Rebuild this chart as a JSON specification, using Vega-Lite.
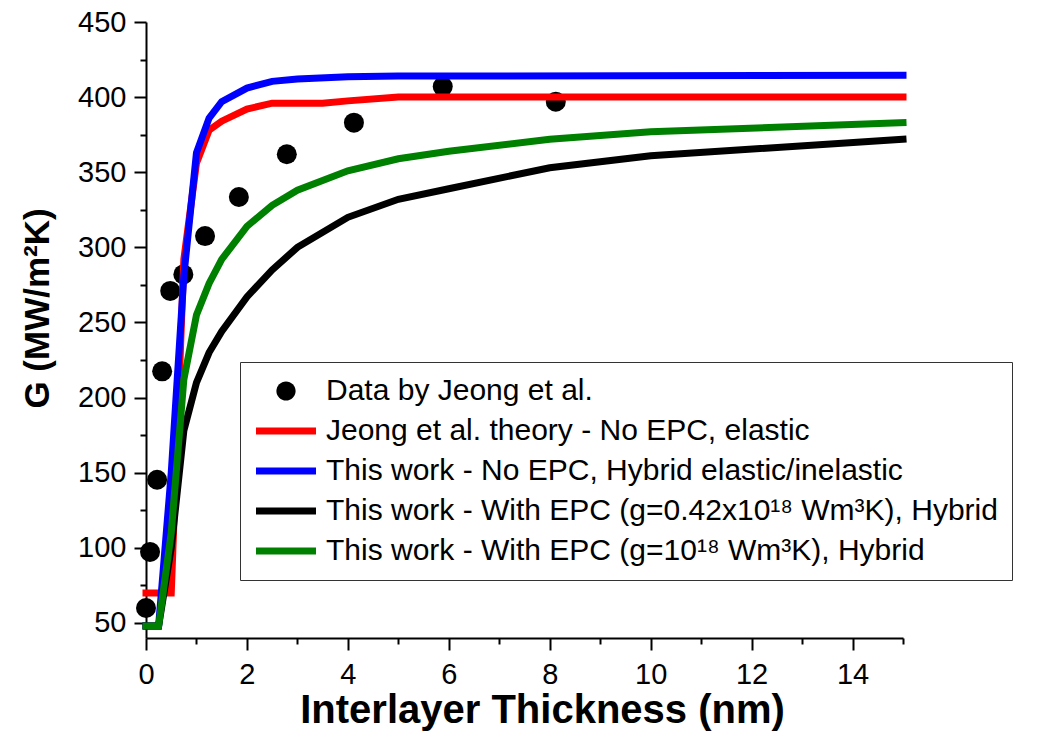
{
  "$schema": "https://vega.github.io/schema/vega-lite/v6.json",
  "width": 757,
  "height": 616,
  "autosize": {"type": "none"},
  "padding": {"left": 146, "top": 22, "right": 138, "bottom": 102},
  "background": "white",
  "config": {"view": {"stroke": null}, "font": "Liberation Sans"},
  "data": {
    "values": [
      {"series": "Data by Jeong et al.", "x": 0, "y": 60},
      {"series": "Data by Jeong et al.", "x": 0.08, "y": 97.3},
      {"series": "Data by Jeong et al.", "x": 0.22, "y": 145.3},
      {"series": "Data by Jeong et al.", "x": 0.32, "y": 217.5},
      {"series": "Data by Jeong et al.", "x": 0.48, "y": 271},
      {"series": "Data by Jeong et al.", "x": 0.74, "y": 282},
      {"series": "Data by Jeong et al.", "x": 1.17, "y": 307.5},
      {"series": "Data by Jeong et al.", "x": 1.84, "y": 333.5},
      {"series": "Data by Jeong et al.", "x": 2.79, "y": 362},
      {"series": "Data by Jeong et al.", "x": 4.12, "y": 383},
      {"series": "Data by Jeong et al.", "x": 5.88, "y": 407},
      {"series": "Data by Jeong et al.", "x": 8.12, "y": 397},

      {"series": "Jeong et al. theory - No EPC, elastic", "x": 0, "y": 70},
      {"series": "Jeong et al. theory - No EPC, elastic", "x": 0.5, "y": 70},
      {"series": "Jeong et al. theory - No EPC, elastic", "x": 0.75, "y": 292},
      {"series": "Jeong et al. theory - No EPC, elastic", "x": 1, "y": 356},
      {"series": "Jeong et al. theory - No EPC, elastic", "x": 1.25, "y": 378},
      {"series": "Jeong et al. theory - No EPC, elastic", "x": 1.5, "y": 384},
      {"series": "Jeong et al. theory - No EPC, elastic", "x": 2, "y": 392},
      {"series": "Jeong et al. theory - No EPC, elastic", "x": 2.5, "y": 396},
      {"series": "Jeong et al. theory - No EPC, elastic", "x": 3, "y": 396},
      {"series": "Jeong et al. theory - No EPC, elastic", "x": 3.5, "y": 396},
      {"series": "Jeong et al. theory - No EPC, elastic", "x": 4, "y": 397.5},
      {"series": "Jeong et al. theory - No EPC, elastic", "x": 5, "y": 400},
      {"series": "Jeong et al. theory - No EPC, elastic", "x": 6, "y": 400},
      {"series": "Jeong et al. theory - No EPC, elastic", "x": 8, "y": 400},
      {"series": "Jeong et al. theory - No EPC, elastic", "x": 10, "y": 400},
      {"series": "Jeong et al. theory - No EPC, elastic", "x": 15, "y": 400},

      {"series": "This work - No EPC, Hybrid elastic/inelastic", "x": 0, "y": 48},
      {"series": "This work - No EPC, Hybrid elastic/inelastic", "x": 0.25, "y": 48},
      {"series": "This work - No EPC, Hybrid elastic/inelastic", "x": 0.5, "y": 150},
      {"series": "This work - No EPC, Hybrid elastic/inelastic", "x": 0.75, "y": 281},
      {"series": "This work - No EPC, Hybrid elastic/inelastic", "x": 1, "y": 363},
      {"series": "This work - No EPC, Hybrid elastic/inelastic", "x": 1.25, "y": 386},
      {"series": "This work - No EPC, Hybrid elastic/inelastic", "x": 1.5, "y": 397},
      {"series": "This work - No EPC, Hybrid elastic/inelastic", "x": 2, "y": 406},
      {"series": "This work - No EPC, Hybrid elastic/inelastic", "x": 2.5, "y": 410.5},
      {"series": "This work - No EPC, Hybrid elastic/inelastic", "x": 3, "y": 412},
      {"series": "This work - No EPC, Hybrid elastic/inelastic", "x": 4, "y": 413.5},
      {"series": "This work - No EPC, Hybrid elastic/inelastic", "x": 5, "y": 414},
      {"series": "This work - No EPC, Hybrid elastic/inelastic", "x": 15, "y": 414.5},

      {"series": "This work - With EPC (g=0.42x10¹⁸ Wm³K), Hybrid", "x": 0, "y": 48},
      {"series": "This work - With EPC (g=0.42x10¹⁸ Wm³K), Hybrid", "x": 0.25, "y": 48},
      {"series": "This work - With EPC (g=0.42x10¹⁸ Wm³K), Hybrid", "x": 0.5, "y": 100},
      {"series": "This work - With EPC (g=0.42x10¹⁸ Wm³K), Hybrid", "x": 0.75, "y": 178},
      {"series": "This work - With EPC (g=0.42x10¹⁸ Wm³K), Hybrid", "x": 1, "y": 210},
      {"series": "This work - With EPC (g=0.42x10¹⁸ Wm³K), Hybrid", "x": 1.25, "y": 230},
      {"series": "This work - With EPC (g=0.42x10¹⁸ Wm³K), Hybrid", "x": 1.5, "y": 244},
      {"series": "This work - With EPC (g=0.42x10¹⁸ Wm³K), Hybrid", "x": 2, "y": 267},
      {"series": "This work - With EPC (g=0.42x10¹⁸ Wm³K), Hybrid", "x": 2.5, "y": 285},
      {"series": "This work - With EPC (g=0.42x10¹⁸ Wm³K), Hybrid", "x": 3, "y": 300},
      {"series": "This work - With EPC (g=0.42x10¹⁸ Wm³K), Hybrid", "x": 4, "y": 320},
      {"series": "This work - With EPC (g=0.42x10¹⁸ Wm³K), Hybrid", "x": 5, "y": 332},
      {"series": "This work - With EPC (g=0.42x10¹⁸ Wm³K), Hybrid", "x": 6, "y": 339},
      {"series": "This work - With EPC (g=0.42x10¹⁸ Wm³K), Hybrid", "x": 8, "y": 353},
      {"series": "This work - With EPC (g=0.42x10¹⁸ Wm³K), Hybrid", "x": 10, "y": 361},
      {"series": "This work - With EPC (g=0.42x10¹⁸ Wm³K), Hybrid", "x": 15, "y": 372},

      {"series": "This work - With EPC (g=10¹⁸ Wm³K), Hybrid", "x": 0, "y": 48},
      {"series": "This work - With EPC (g=10¹⁸ Wm³K), Hybrid", "x": 0.25, "y": 48},
      {"series": "This work - With EPC (g=10¹⁸ Wm³K), Hybrid", "x": 0.5, "y": 110},
      {"series": "This work - With EPC (g=10¹⁸ Wm³K), Hybrid", "x": 0.75, "y": 212},
      {"series": "This work - With EPC (g=10¹⁸ Wm³K), Hybrid", "x": 1, "y": 255},
      {"series": "This work - With EPC (g=10¹⁸ Wm³K), Hybrid", "x": 1.25, "y": 276},
      {"series": "This work - With EPC (g=10¹⁸ Wm³K), Hybrid", "x": 1.5, "y": 292},
      {"series": "This work - With EPC (g=10¹⁸ Wm³K), Hybrid", "x": 2, "y": 314},
      {"series": "This work - With EPC (g=10¹⁸ Wm³K), Hybrid", "x": 2.5, "y": 328},
      {"series": "This work - With EPC (g=10¹⁸ Wm³K), Hybrid", "x": 3, "y": 338},
      {"series": "This work - With EPC (g=10¹⁸ Wm³K), Hybrid", "x": 4, "y": 351},
      {"series": "This work - With EPC (g=10¹⁸ Wm³K), Hybrid", "x": 5, "y": 359},
      {"series": "This work - With EPC (g=10¹⁸ Wm³K), Hybrid", "x": 6, "y": 364},
      {"series": "This work - With EPC (g=10¹⁸ Wm³K), Hybrid", "x": 8, "y": 372},
      {"series": "This work - With EPC (g=10¹⁸ Wm³K), Hybrid", "x": 10, "y": 377},
      {"series": "This work - With EPC (g=10¹⁸ Wm³K), Hybrid", "x": 15, "y": 383}
    ]
  },
  "encoding": {
    "x": {
      "field": "x", "type": "quantitative",
      "scale": {"domain": [0, 15], "nice": false, "zero": false},
      "axis": {
        "values": [0,1,2,3,4,5,6,7,8,9,10,11,12,13,14,15],
        "labelExpr": "datum.value % 2 === 0 ? datum.label : ''",
        "tickSize": {"condition": {"test": "datum.value % 2 !== 0", "value": 6}, "value": 12},
        "tickWidth": 2, "tickColor": "black",
        "domainWidth": 2, "domainColor": "black",
        "grid": false,
        "labelFontSize": 29, "labelColor": "black", "labelPadding": 10,
        "labelFlush": false, "labelOverlap": false,
        "title": "Interlayer Thickness (nm)",
        "titleFontSize": 40, "titleFontWeight": "bold", "titleColor": "black",
        "titleX": 396, "titleY": 84, "titleBaseline": "alphabetic", "titleAlign": "center"
      }
    },
    "y": {
      "field": "y", "type": "quantitative",
      "scale": {"domain": [40, 450], "nice": false, "zero": false},
      "axis": {
        "values": [50,75,100,125,150,175,200,225,250,275,300,325,350,375,400,425,450],
        "labelExpr": "datum.value % 50 === 0 ? datum.label : ''",
        "tickSize": {"condition": {"test": "datum.value % 50 !== 0", "value": 6}, "value": 12},
        "tickWidth": 2, "tickColor": "black",
        "domainWidth": 2, "domainColor": "black",
        "grid": false,
        "labelFontSize": 29, "labelColor": "black", "labelPadding": 8,
        "labelFlush": false, "labelOverlap": false,
        "title": "G (MW/m²K)",
        "titleFontSize": 35, "titleFontWeight": "bold", "titleColor": "black",
        "titleAngle": -90, "titleX": -109, "titleY": 286, "titleBaseline": "middle", "titleAlign": "center"
      }
    },
    "color": {
      "field": "series", "type": "nominal",
      "scale": {
        "domain": [
          "Data by Jeong et al.",
          "Jeong et al. theory - No EPC, elastic",
          "This work - No EPC, Hybrid elastic/inelastic",
          "This work - With EPC (g=0.42x10¹⁸ Wm³K), Hybrid",
          "This work - With EPC (g=10¹⁸ Wm³K), Hybrid"
        ],
        "range": ["#000000", "#ff0000", "#0000ff", "#000000", "#008000"]
      },
      "legend": {
        "orient": "none", "legendX": 94, "legendY": 340,
        "title": null,
        "labelFont": "Liberation Sans", "labelFontSize": 30, "labelColor": "black", "labelLimit": 1000,
        "symbolType": "stroke", "symbolSize": 3600, "symbolStrokeWidth": 7,
        "strokeColor": "#333333", "padding": 14, "rowPadding": 10, "labelOffset": 42,
        "encode": {
          "symbols": {
            "update": {
              "shape": {"signal": "datum.value === 'Data by Jeong et al.' ? 'M-0.32,0A0.32,0.32,0,1,1,0.32,0A0.32,0.32,0,1,1,-0.32,0Z' : 'stroke'"},
              "size": {"value": 3600},
              "x": {"value": 32},
              "fill": {"signal": "datum.value === 'Data by Jeong et al.' ? 'black' : 'transparent'"},
              "strokeWidth": {"signal": "datum.value === 'Data by Jeong et al.' ? 0 : 7"}
            }
          }
        }
      }
    }
  },
  "layer": [
    {
      "transform": [{"filter": "datum.series === 'Data by Jeong et al.'"}],
      "mark": {"type": "point", "filled": true, "size": 400, "opacity": 1}
    },
    {
      "transform": [{"filter": "datum.series === 'Jeong et al. theory - No EPC, elastic'"}],
      "mark": {"type": "line", "strokeWidth": 7, "strokeCap": "square"},
      "encoding": {}
    },
    {
      "transform": [{"filter": "datum.series === 'This work - No EPC, Hybrid elastic/inelastic'"}],
      "mark": {"type": "line", "strokeWidth": 7, "strokeCap": "square"},
      "encoding": {}
    },
    {
      "transform": [{"filter": "datum.series === 'This work - With EPC (g=0.42x10¹⁸ Wm³K), Hybrid'"}],
      "mark": {"type": "line", "strokeWidth": 7, "strokeCap": "square"},
      "encoding": {}
    },
    {
      "transform": [{"filter": "datum.series === 'This work - With EPC (g=10¹⁸ Wm³K), Hybrid'"}],
      "mark": {"type": "line", "strokeWidth": 7, "strokeCap": "square"},
      "encoding": {}
    }
  ]
}
